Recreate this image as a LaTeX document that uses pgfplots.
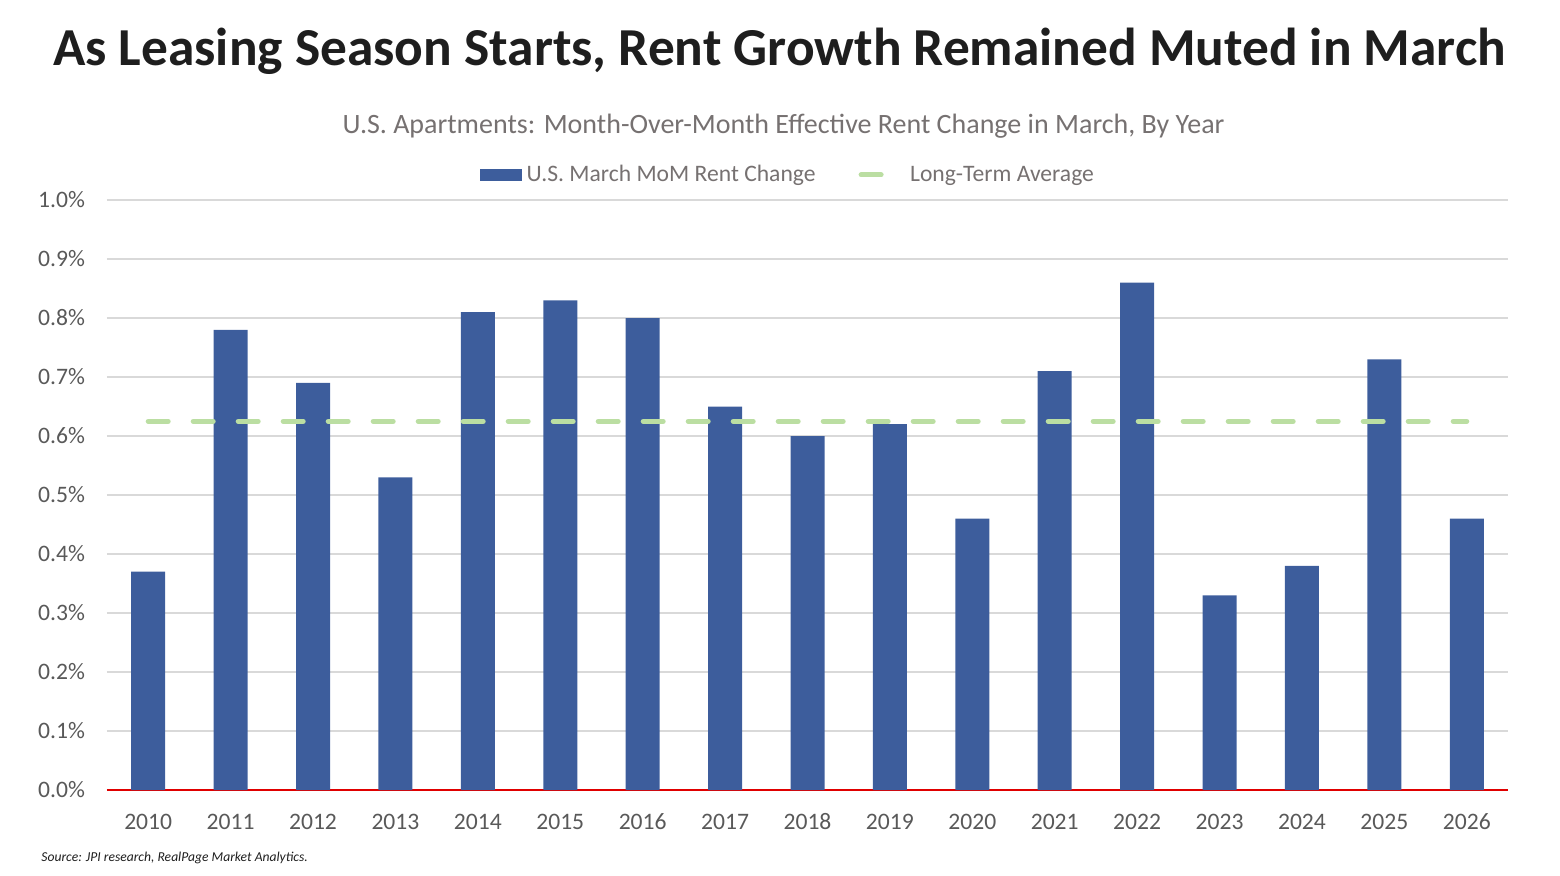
\documentclass[border=0pt]{standalone}
\usepackage{fontspec}
\setmainfont{Carlito}
\usepackage{pgfplots}
\pgfplotsset{compat=1.18}
\definecolor{barblue}{HTML}{3D5D9C}
\definecolor{avggreen}{HTML}{BBDEA2}
\definecolor{gridgray}{HTML}{D9D9D9}
\definecolor{ticktext}{HTML}{595959}
\definecolor{subgray}{HTML}{767171}
\definecolor{titlecol}{HTML}{1E1E1E}
\definecolor{basered}{HTML}{E00000}
\begin{document}
\begin{tikzpicture}
\path[use as bounding box] (-53.5pt,-42.5pt) rectangle (726.5pt,395pt);
\begin{axis}[
  at={(0pt,0pt)}, anchor=south west,
  scale only axis, width=700.5pt, height=295pt,
  xmin=-0.5, xmax=16.5, ymin=0, ymax=1.0,
  ybar, bar width=17pt,
  xtick={0,...,16},
  xticklabels={2010,2011,2012,2013,2014,2015,2016,2017,2018,2019,2020,2021,2022,2023,2024,2025,2026},
  ytick={0,0.1,0.2,0.3,0.4,0.5,0.6,0.7,0.8,0.9,1.0},
  /pgf/number format/assume math mode=true,
  yticklabel={\pgfmathprintnumber[fixed,fixed zerofill,precision=1]{\tick}\%},
  ymajorgrids, grid style={draw=gridgray, line width=0.8pt},
  axis line style={draw=none},
  major tick length=0pt,
  extra y ticks={0}, extra y tick labels={},
  extra y tick style={grid style={draw=basered, line width=1.1pt}},
  ticklabel style={font=\fontsize{11.8}{13}\selectfont, text=ticktext},
  yticklabel style={xshift=-7.5pt},
  xticklabel style={anchor=base, yshift=-19.5pt},
  legend columns=2,
  legend style={at={(0.487,1.0424)}, anchor=center, draw=none, fill=none,
    font=\fontsize{11.8}{14}\selectfont, text=subgray,
    /tikz/every even column/.append style={column sep=19pt},
    nodes={inner xsep=2.5pt}},
  clip=false,
]
\addplot[fill=barblue, draw=none,
  legend image code/.code={\fill[barblue] (0pt,-3pt) rectangle (21pt,3pt);}]
  coordinates {(0,0.37) (1,0.78) (2,0.69) (3,0.53) (4,0.81) (5,0.83) (6,0.80) (7,0.65) (8,0.60) (9,0.62) (10,0.46) (11,0.71) (12,0.86) (13,0.33) (14,0.38) (15,0.73) (16,0.46)};
\addlegendentry{U.S. March MoM Rent Change}
\addplot[sharp plot, draw=avggreen, line width=2.5pt, line cap=round, dash pattern=on 10pt off 12.5pt,
  legend image code/.code={\draw[avggreen, line width=2.5pt, line cap=round] (1.25pt,0pt) -- (12.75pt,0pt); \path (22pt,0pt);}]
  coordinates {(0,0.625) (16,0.625)};
\addlegendentry{Long-Term Average}
\end{axis}
\node[font=\fontsize{26.7}{32}\selectfont\bfseries, text=titlecol] at (336.25pt,369.5pt) {As Leasing Season Starts, Rent Growth Remained Muted in March};
\node[font=\fontsize{14}{17}\selectfont, text=subgray] at (338.25pt,332pt) {U.S. Apartments: Month-Over-Month Effective Rent Change in March, By Year};
\node[font=\fontsize{6.8}{8}\selectfont\itshape, text=titlecol, anchor=west, inner sep=0pt] at (-33pt,-34pt) {Source: JPI research, RealPage Market Analytics.};
\end{tikzpicture}
\end{document}
